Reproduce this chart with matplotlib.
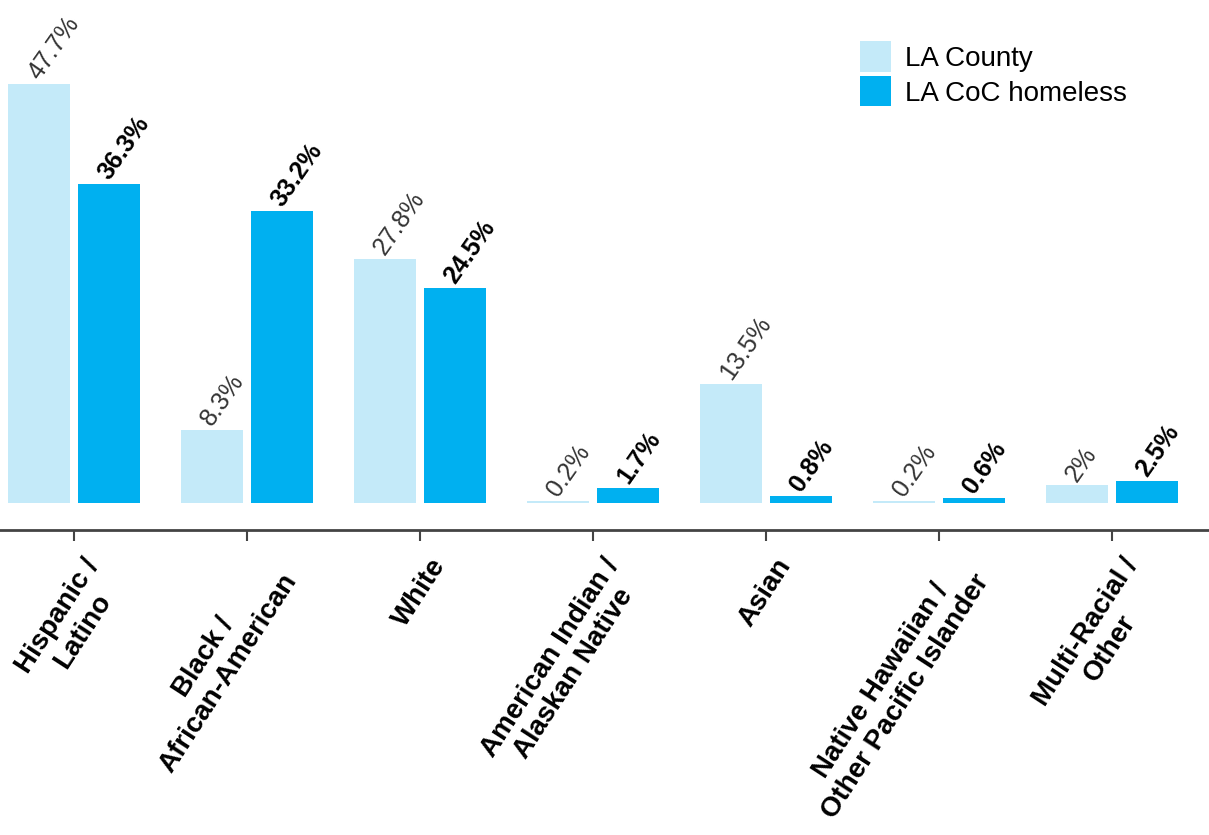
import matplotlib
matplotlib.use("Agg")
import matplotlib.pyplot as plt
import matplotlib.transforms as mtransforms
import numpy as np

plt.rcParams.update({
    "font.family": ["Liberation Sans", "DejaVu Sans"],
    "font.size": 14,
})

categories = [
    "Hispanic /\nLatino",
    "Black /\nAfrican-American",
    "White",
    "American Indian /\nAlaskan Native",
    "Asian",
    "Native Hawaiian /\nOther Pacific Islander",
    "Multi-Racial /\nOther",
]
county = [47.7, 8.3, 27.8, 0.2, 13.5, 0.2, 2]
homeless = [36.3, 33.2, 24.5, 1.7, 0.8, 0.6, 2.5]
county_labels = ["47.7%", "8.3%", "27.8%", "0.2%", "13.5%", "0.2%", "2%"]
homeless_labels = ["36.3%", "33.2%", "24.5%", "1.7%", "0.8%", "0.6%", "2.5%"]

LIGHT = "#c4eaf9"
DARK = "#00b0f0"

fig = plt.figure(figsize=(12.09, 8.35), dpi=100)
ax = fig.add_axes([0, 1 - 530 / 835, 1, 530 / 835])

x = np.arange(len(categories))
off = 0.202
w = 0.358
ax.bar(x - off, county, w, color=LIGHT, label="LA County")
ax.bar(x + off, homeless, w, color=DARK, label="LA CoC homeless")

for xi, v, s in zip(x, county, county_labels):
    ax.annotate(s, (xi - off, v), xytext=(3, 0), textcoords="offset points",
                rotation=55, rotation_mode="anchor", ha="left", va="bottom",
                fontsize=18, color="#333333")
for xi, v, s in zip(x, homeless, homeless_labels):
    ax.annotate(s, (xi + off, v), xytext=(3, 0), textcoords="offset points",
                rotation=55, rotation_mode="anchor", ha="left", va="bottom",
                fontsize=18, fontweight="bold", color="black")

ax.set_xlim(-0.428, 6.561)
ax.set_ylim(-3.07, 57.2)
ax.set_yticks([])
ax.set_xticks(x)
ax.set_xticklabels(categories, rotation=57, rotation_mode="anchor",
                   ha="right", va="top", fontweight="bold", fontsize=20,
                   multialignment="center", linespacing=1.15)
ax.tick_params(axis="x", length=8, width=1.5, color="#444444", pad=9)

# nudge tick labels a little to the right, as in the original
shift = mtransforms.ScaledTranslation(9 / 100, 0, fig.dpi_scale_trans)
for lbl in ax.get_xticklabels():
    lbl.set_transform(lbl.get_transform() + shift)

for side in ["top", "left", "right"]:
    ax.spines[side].set_visible(False)
ax.spines["bottom"].set_color("#444444")
ax.spines["bottom"].set_linewidth(2)

leg = ax.legend(loc="upper left", bbox_to_anchor=(0.700, 0.948), frameon=False,
                fontsize=20, handlelength=1.1, handleheight=1.3,
                handletextpad=0.5, labelspacing=0.15, borderpad=0)

fig.savefig("out.png", dpi=100, facecolor="white")
